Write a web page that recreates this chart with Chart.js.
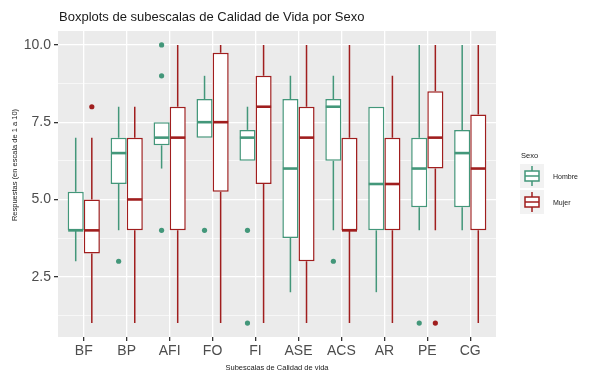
<!DOCTYPE html>
<html>
<head>
<meta charset="utf-8">
<script src="https://cdn.jsdelivr.net/npm/chart.js@4"></script>
<style>
  html, body { margin: 0; padding: 0; background: #fff; }
  #wrap { width: 600px; height: 382px; }
</style>
</head>
<body>
<div id="wrap"><canvas id="boxChart" width="600" height="382"></canvas></div>
<script>
// categories on the x axis
const categories = ["BF", "BP", "AFI", "FO", "FI", "ASE", "ACS", "AR", "PE", "CG"];

// Hombre: whisker low, Q1, median, Q3, whisker high, outliers
const lowH  = [3, 4, 6, 7, 6.25, 2, 4, 2, 4, 4];
const q1H   = [4, 5.5, 6.75, 7, 6.25, 3.75, 6.25, 4, 4.75, 4.75];
const medH  = [4, 6.5, 7, 7.5, 7, 6, 8, 5.5, 6, 6.5];
const q3H   = [5.25, 7, 7.5, 8.25, 7.25, 8.25, 8.25, 8, 7, 7.25];
const highH = [7, 8, 7.5, 9, 8, 9, 9, 8, 10, 10];
const outH  = [[], [3], [10, 9, 4], [4], [4, 1], [], [3], [], [1], []];

// Mujer
const lowM  = [1, 1, 1, 1, 1, 1, 1, 1, 4, 1];
const q1M   = [3.25, 4, 4, 5.25, 5.5, 3, 4, 4, 6, 4];
const medM  = [4, 5, 7, 7.5, 8, 7, 4, 5.5, 7, 6];
const q3M   = [5, 7, 8, 9.75, 9, 8, 7, 7, 8.5, 7.75];
const highM = [7, 8, 10, 10, 10, 10, 10, 9, 10, 10];
const outM  = [[8], [], [], [], [], [], [], [], [1], []];

const yTicks = [1.25, 2.5, 3.75, 5, 6.25, 7.5, 8.75, 10];

const green = "#43977a";
const red = "#a01e1e";
const FONT = "'Liberation Sans', Arial, sans-serif";

const series = [
  { name: "Hombre", color: green, q1: q1H, q3: q3H, low: lowH, med: medH, high: highH, out: outH },
  { name: "Mujer",  color: red,   q1: q1M, q3: q3M, low: lowM, med: medM, high: highM, out: outM }
];

const isMajor = v => Math.abs(v / 2.5 - Math.round(v / 2.5)) < 1e-6;

// ggplot style panel, whiskers, medians, outliers, titles and legend
const ggPlugin = {
  id: "ggPlugin",
  beforeDraw(chart) {
    const { ctx, chartArea: a } = chart;
    ctx.save();
    ctx.fillStyle = "#ebebeb";
    ctx.fillRect(a.left, a.top, a.right - a.left, a.bottom - a.top);
    ctx.restore();
  },
  afterDatasetsDraw(chart) {
    const ctx = chart.ctx;
    const y = chart.scales.y;
    ctx.save();
    series.forEach((s, di) => {
      const meta = chart.getDatasetMeta(di);
      meta.data.forEach((bar, i) => {
        const x = bar.x;
        const half = bar.width / 2;
        ctx.strokeStyle = s.color;
        ctx.lineWidth = 1.5;
        ctx.beginPath();
        ctx.moveTo(x, y.getPixelForValue(s.q3[i]));
        ctx.lineTo(x, y.getPixelForValue(s.high[i]));
        ctx.moveTo(x, y.getPixelForValue(s.q1[i]));
        ctx.lineTo(x, y.getPixelForValue(s.low[i]));
        ctx.stroke();
        // median
        ctx.lineWidth = 2.6;
        ctx.beginPath();
        const ym = y.getPixelForValue(s.med[i]);
        ctx.moveTo(x - half + 0.5, ym);
        ctx.lineTo(x + half - 0.5, ym);
        ctx.stroke();
        // outliers
        ctx.fillStyle = s.color;
        s.out[i].forEach(v => {
          ctx.beginPath();
          ctx.arc(x, y.getPixelForValue(v), 2.6, 0, Math.PI * 2);
          ctx.fill();
        });
      });
    });
    ctx.restore();
  },
  afterDraw(chart) {
    const { ctx, chartArea: a } = chart;
    ctx.save();
    ctx.fillStyle = "#1a1a1a";
    ctx.font = "13px " + FONT;
    ctx.textBaseline = "alphabetic";
    ctx.textAlign = "left";
    ctx.fillText("Boxplots de subescalas de Calidad de Vida por Sexo", 59, 21);

    ctx.font = "7.5px " + FONT;
    ctx.textAlign = "center";
    ctx.textBaseline = "middle";
    ctx.fillText("Subescalas de Calidad de vida", (a.left + a.right) / 2, 368);

    ctx.save();
    ctx.translate(15, 165);
    ctx.rotate(-Math.PI / 2);
    ctx.fillText("Respuestas (en escala de 1 a 10)", 0, 0);
    ctx.restore();

    // legend
    ctx.textAlign = "left";
    ctx.font = "7.5px " + FONT;
    ctx.fillText("Sexo", 521, 156);
    series.forEach((s, k) => {
      const ky = 164 + k * 26;
      ctx.fillStyle = "#f2f2f2";
      ctx.fillRect(520, ky, 24, 24);
      const cx = 532;
      const cy = ky + 12;
      ctx.strokeStyle = s.color;
      ctx.lineWidth = 1.5;
      ctx.beginPath();
      ctx.moveTo(cx, ky + 2);
      ctx.lineTo(cx, cy - 5);
      ctx.moveTo(cx, cy + 5);
      ctx.lineTo(cx, ky + 22);
      ctx.stroke();
      ctx.fillStyle = "#fff";
      ctx.fillRect(525, cy - 5, 14, 10);
      ctx.strokeRect(525, cy - 5, 14, 10);
      ctx.beginPath();
      ctx.moveTo(525, cy);
      ctx.lineTo(539, cy);
      ctx.stroke();
      ctx.fillStyle = "#1a1a1a";
      ctx.font = "7px " + FONT;
      ctx.fillText(s.name, 553, cy + 1);
    });
    ctx.restore();
  }
};

const ctx = document.getElementById("boxChart").getContext("2d");

new Chart(ctx, {
  type: "bar",
  data: {
    datasets: series.map(s => ({
      label: s.name,
      data: categories.map((c, i) => ({ x: i + 1, y: [s.q1[i], s.q3[i]] })),
      backgroundColor: "#ffffff",
      borderColor: s.color,
      borderWidth: 1.5,
      borderSkipped: false
    }))
  },
  options: {
    responsive: false,
    animation: false,
    layout: { padding: { top: 31, right: 104, left: 0, bottom: 0 } },
    datasets: { bar: { categoryPercentage: 0.75, barPercentage: 1.0 } },
    plugins: { legend: { display: false }, tooltip: { enabled: false }, title: { display: false } },
    scales: {
      x: {
        type: "linear",
        min: 0.4,
        max: categories.length + 0.6,
        offset: false,
        border: { display: false },
        afterBuildTicks(scale) { scale.ticks = categories.map((c, i) => ({ value: i + 1 })); },
        grid: { offset: false, color: "#ffffff", lineWidth: 1.3, tickColor: "#333333", tickLength: 4 },
        ticks: {
          color: "#4d4d4d",
          font: { family: FONT, size: 14 },
          padding: 2,
          autoSkip: false,
          maxRotation: 0,
          callback: v => categories[Math.round(v) - 1]
        },
        afterFit(scale) { scale.height = 45; }
      },
      y: {
        min: 0.55,
        max: 10.45,
        border: { display: false },
        afterBuildTicks(scale) { scale.ticks = yTicks.map(v => ({ value: v })); },
        grid: {
          color: "#ffffff",
          lineWidth: c => (isMajor(c.tick.value) ? 1.3 : 0.6),
          tickColor: c => (isMajor(c.tick.value) ? "#333333" : "rgba(0,0,0,0)"),
          tickLength: 4
        },
        ticks: {
          color: "#4d4d4d",
          font: { family: FONT, size: 14 },
          padding: 3,
          autoSkip: false,
          callback: v => (isMajor(v) ? v.toFixed(1) : "")
        },
        afterFit(scale) { scale.width = 58; }
      }
    }
  },
  plugins: [ggPlugin]
});
</script>
</body>
</html>
